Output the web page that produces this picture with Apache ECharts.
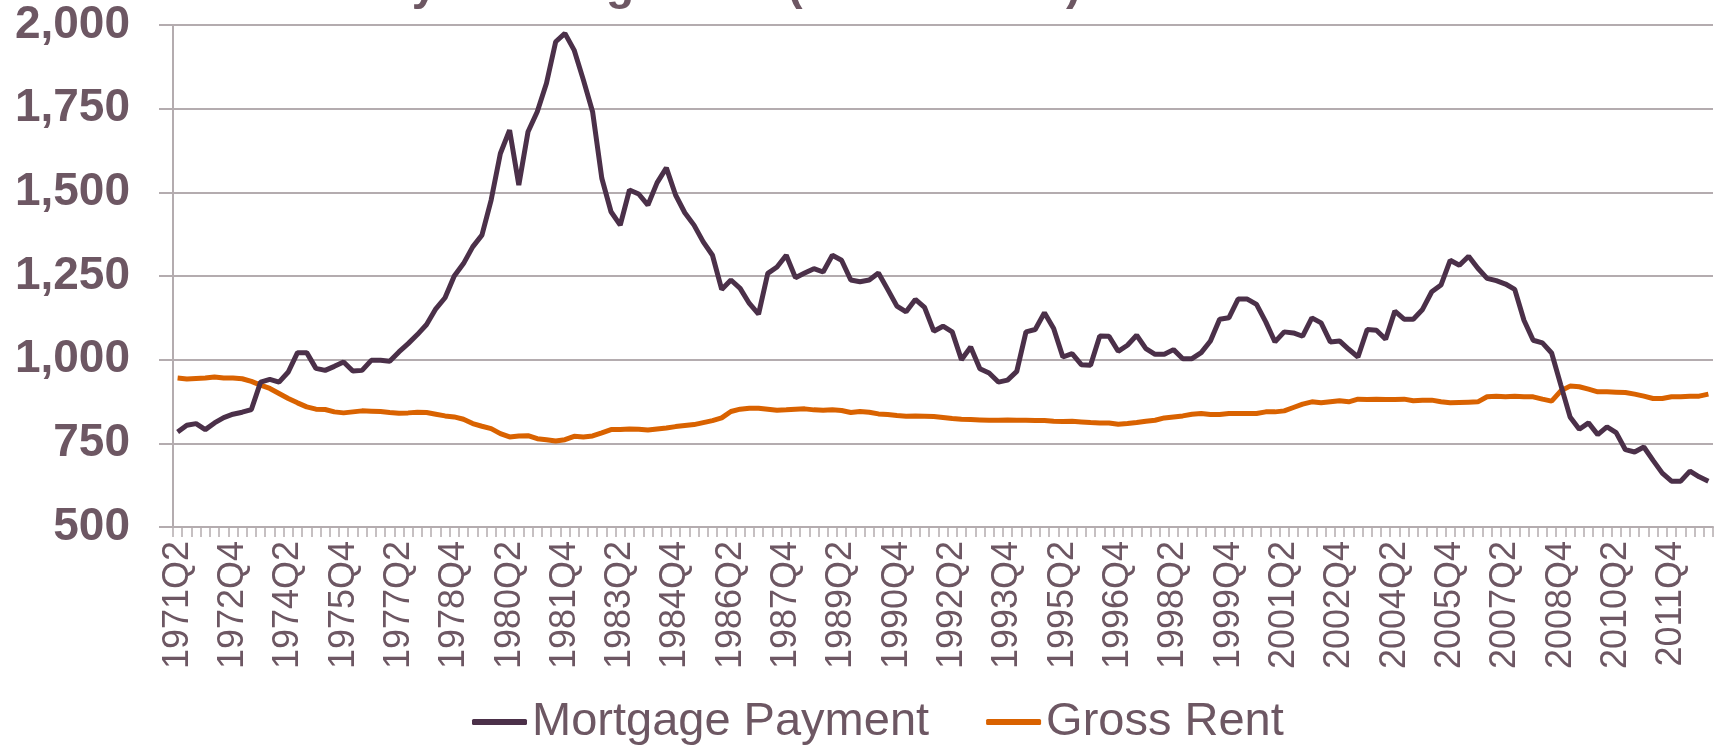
<!DOCTYPE html>
<html>
<head>
<meta charset="utf-8">
<script src="https://cdn.jsdelivr.net/npm/echarts@6/dist/echarts.min.js"></script>
<style>
html,body{margin:0;padding:0;background:#fff;}
#chart{width:1719px;height:747px;}
</style>
</head>
<body>
<div id="chart"></div>
<script>
// Quarterly categories 1971Q2 .. 2012Q4
const firstYear = 1971, firstQuarter = 2, nPoints = 167;
const categories = [];
for (let k = 0; k < nPoints; k++) {
  const q = firstQuarter - 1 + k;
  categories.push((firstYear + Math.floor(q / 4)) + 'Q' + (q % 4 + 1));
}

const mortgagePayment = [
  784, 804, 809, 791, 811, 827, 837, 843, 851, 933,
  941, 933, 963, 1021, 1021, 974, 968, 980, 993, 966,
  968, 998, 998, 995, 1023, 1048, 1075, 1105, 1152, 1185,
  1250, 1287, 1337, 1372, 1477, 1616, 1686, 1522, 1681, 1741,
  1826, 1950, 1975, 1925, 1836, 1741, 1542, 1442, 1402, 1507,
  1495, 1462, 1529, 1573, 1492, 1439, 1402, 1352, 1312, 1210,
  1238, 1213, 1168, 1136, 1258, 1277, 1312, 1245, 1259, 1272,
  1262, 1312, 1297, 1238, 1233, 1238, 1259, 1210, 1160, 1143,
  1180, 1156, 1085, 1100, 1083, 1000, 1038, 973, 960, 933,
  939, 965, 1083, 1090, 1140, 1093, 1008, 1018, 985, 983,
  1071, 1070, 1025, 1043, 1073, 1033, 1016, 1016, 1030, 1003,
  1003, 1021, 1056, 1121, 1125, 1181, 1181, 1165, 1113, 1053,
  1083, 1080, 1070, 1125, 1110, 1053, 1056, 1031, 1008, 1090,
  1088, 1061, 1145, 1121, 1121, 1150, 1203, 1223, 1297, 1282,
  1309, 1273, 1243, 1236, 1226, 1210, 1118, 1058, 1050, 1020,
  924, 829, 792, 811, 776, 799, 782, 731, 724, 739,
  699, 661, 637, 637, 667, 650, 637
];

const grossRent = [
  945, 942, 944, 945, 948, 945, 945, 943, 935, 924,
  914, 899, 884, 871, 859, 852, 851, 844, 841, 844,
  847, 846, 845, 842, 840, 841, 843, 842, 837, 832,
  829, 822, 809, 801, 794, 779, 769, 772, 773, 764,
  761, 757, 761, 771, 769, 772, 781, 791, 791, 793,
  792, 790, 793, 796, 800, 803, 806, 812, 818, 826,
  845, 852, 855, 855, 852, 849, 850, 852, 853, 850,
  849, 850, 848, 842, 845, 843, 838, 836, 833, 831,
  832, 831, 830, 827, 824, 822, 821, 820, 819, 819,
  820, 819, 819, 818, 818, 816, 815, 816, 814, 812,
  811, 811, 807, 809, 812, 816, 819, 826, 829, 832,
  837, 839, 836, 836, 839, 839, 839, 839, 844, 844,
  847, 857, 867, 874, 871, 874, 877, 874, 882, 881,
  882, 881, 881, 882, 877, 879, 879, 874, 871, 872,
  873, 874, 889, 891, 889, 891, 889, 889, 882, 876,
  907, 921, 919, 912, 904, 904, 903, 902, 897, 891,
  884, 884, 889, 889, 891, 891, 897
];

const yTicks = { min: 500, max: 2000, interval: 250 };
const seriesNames = ['Mortgage Payment', 'Gross Rent'];
const titleText = 'Real Monthly Housing Costs (2011 dollars)';

const textColor = '#6d5763';
const gridColor = '#b4acaf';
const font = 'Liberation Sans, Arial, sans-serif';

const chart = echarts.init(document.getElementById('chart'), null, { renderer: 'canvas' });
chart.setOption({
  animation: false,
  backgroundColor: '#ffffff',
  title: {
    text: titleText,
    left: 146,
    top: -42,
    textStyle: { color: textColor, fontFamily: font, fontSize: 46, fontWeight: 'bold' }
  },
  grid: { left: 173, right: 6, top: 25, bottom: 220, containLabel: false },
  legend: {
    data: seriesNames,
    left: 467,
    top: 690,
    itemWidth: 55,
    itemHeight: 6,
    itemGap: 57,
    icon: 'roundRect',
    textStyle: { color: textColor, fontFamily: font, fontSize: 47, lineHeight: 54 }
  },
  xAxis: {
    type: 'category',
    data: categories,
    boundaryGap: true,
    axisLine: { show: true, lineStyle: { color: gridColor, width: 2 } },
    axisTick: { show: true, interval: 0, length: 10, lineStyle: { color: gridColor, width: 1.5 } },
    axisLabel: {
      interval: 5,
      rotate: 90,
      margin: 14,
      color: textColor,
      fontFamily: font,
      fontSize: 36
    },
    splitLine: { show: false }
  },
  yAxis: {
    type: 'value',
    min: yTicks.min,
    max: yTicks.max,
    interval: yTicks.interval,
    axisLine: { show: true, lineStyle: { color: gridColor, width: 2 } },
    axisTick: { show: true, length: 14, lineStyle: { color: gridColor, width: 2 } },
    axisLabel: {
      margin: 43,
      color: textColor,
      fontFamily: font,
      fontSize: 46,
      fontWeight: 'bold',
      formatter: v => v.toLocaleString('en-US')
    },
    splitLine: { show: true, lineStyle: { color: gridColor, width: 2 } }
  },
  series: [
    {
      name: seriesNames[0],
      type: 'line',
      data: mortgagePayment,
      showSymbol: false,
      symbol: 'none',
      lineStyle: { color: '#4b3049', width: 5 },
      itemStyle: { color: '#4b3049' },
      z: 3
    },
    {
      name: seriesNames[1],
      type: 'line',
      data: grossRent,
      showSymbol: false,
      symbol: 'none',
      lineStyle: { color: '#d96200', width: 5 },
      itemStyle: { color: '#d96200' },
      z: 2
    }
  ]
});
</script>
</body>
</html>
